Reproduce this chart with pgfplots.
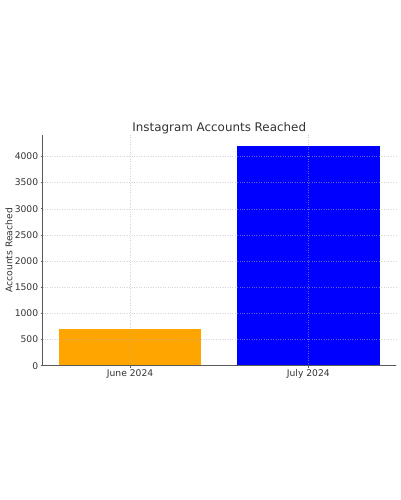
\documentclass[border=0pt]{standalone}
\usepackage{pgfplots}
\pgfplotsset{compat=1.18}
\usepackage{fontspec}
\setmainfont{DejaVu Sans}
\definecolor{juneorange}{HTML}{FFA500}
\definecolor{julyblue}{HTML}{0000FF}
\definecolor{txt}{HTML}{333333}
\definecolor{gridgray}{HTML}{B0B0B0}
\begin{document}
\begin{tikzpicture}[x=1pt,y=1pt]
\path[use as bounding box] (0,0) rectangle (400,500);
\begin{axis}[
  at={(42.7pt,134.3pt)}, anchor=south west,
  scale only axis, width=353pt, height=230.7pt,
  xmin=-0.49, xmax=1.49, ymin=0, ymax=4410,
  xtick={0,1}, xticklabels={June 2024, July 2024},
  ytick={0,500,...,4000},
  axis x line*=bottom, axis y line*=left,
  axis line style={draw=black!65, line width=0.8pt},
  tick style={draw=black!65, line width=0.6pt},
  tick align=outside, major tick length=2pt,
  grid=major, major grid style={dotted, draw=gridgray, draw opacity=0.55, line width=0.4pt},
  ticklabel style={font=\fontsize{9.2}{10}\selectfont, text=txt},
  /pgf/number format/assume math mode=true,
  /pgf/number format/1000 sep={},
  xticklabel style={yshift=1.5pt},
  yticklabel style={xshift=1pt},
  ylabel={Accounts Reached},
  ylabel style={at={(axis description cs:-0.0955,0.5)}, anchor=center, font=\fontsize{9.2}{10}\selectfont, text=txt},
  title={Instagram Accounts Reached},
  title style={at={(axis description cs:0.5,1)}, anchor=base, yshift=-2.5pt, font=\fontsize{11.9}{13}\selectfont, text=txt},
  ybar, bar width=142.6pt, bar shift=0pt,
  axis on top=true,
]
\addplot[draw=none, fill=juneorange] coordinates {(0,700)};
\addplot[draw=none, fill=julyblue] coordinates {(1,4200)};
\end{axis}
\end{tikzpicture}
\end{document}
